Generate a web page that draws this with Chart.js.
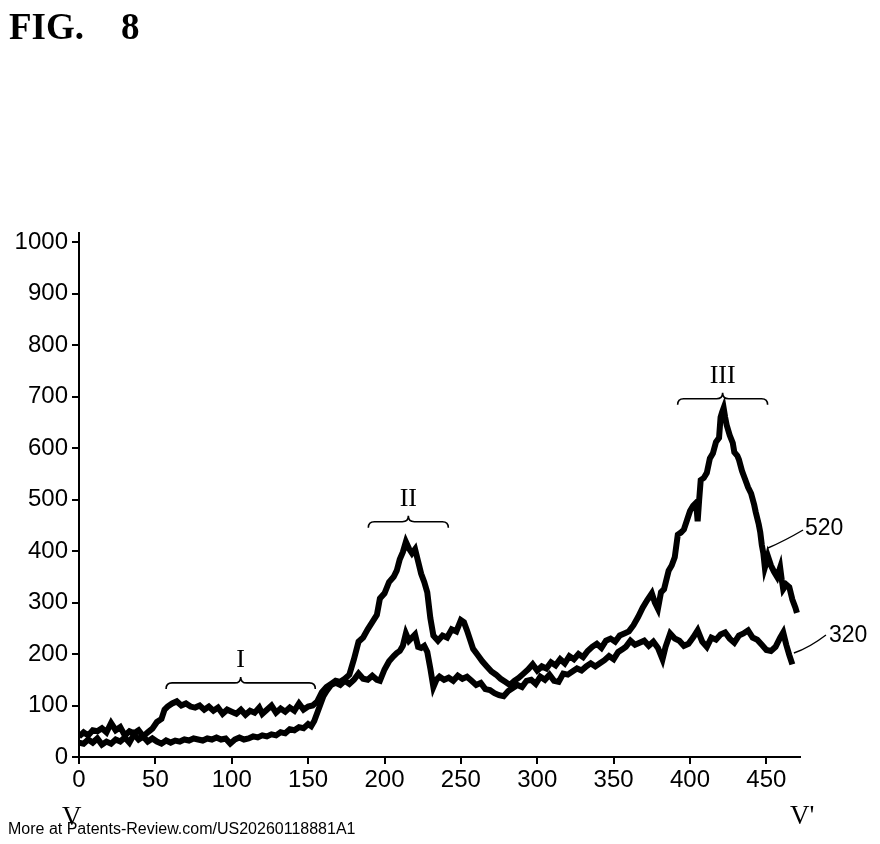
<!DOCTYPE html>
<html>
<head>
<meta charset="utf-8">
<script src="https://cdn.jsdelivr.net/npm/chart.js@4/dist/chart.umd.min.js"></script>
<style>
  html, body { margin: 0; padding: 0; background: #fff; }
  #fig { display: block; }
</style>
</head>
<body>
<canvas id="fig" width="880" height="844"></canvas>
<script>
// curve 520 (upper trace)
var s520X = [0,3,6,9,12,15,18,21,24,27,30,33,36,39,42,45,48,51,54,56,58,61,64,67,70,73,76,79,82,85,88,91,94,97,100,103,106,109,112,115,118,120,123,126,129,132,135,138,141,144,147,150,153,156,159,162,165,168,171,174,177,180,183,186,189,192,195,197,200,203,206,208,210,212,214,216,218,220,222,224,226,228,230,232,235,238,241,244,247,250,252,254,256,258,261,264,267,270,273,276,279,282,285,288,291,294,297,300,303,306,309,312,315,318,321,324,327,330,333,336,339,342,345,348,351,354,357,360,363,366,369,372,375,377,379,381,383,386,388,390,392,394,396,398,400,402,404,405,406,407,409,411,413,415,417,419,420,421,422,423,424,426,428,429,431,432,434,436,438,440,442,443,445,446,447,448,449,450,451,453,455,457,459,460,461,463,465,467,469,470];
var s520Y = [40,48,42,52,50,56,48,66,52,58,42,50,46,52,40,48,55,68,74,92,98,104,108,100,104,98,96,100,92,98,90,96,84,92,88,84,92,82,90,86,96,84,92,100,86,94,88,96,90,104,92,98,100,108,126,136,142,148,146,152,160,190,224,232,248,262,276,308,318,340,350,362,384,398,418,405,396,404,380,356,340,320,270,236,226,236,232,248,244,266,262,246,228,210,198,186,176,166,160,152,146,140,148,154,162,170,180,168,176,172,184,178,190,182,196,190,200,194,206,214,220,212,226,230,224,236,240,244,256,272,290,305,318,300,288,320,326,362,372,388,432,436,442,460,478,488,494,458,500,538,542,552,580,590,612,620,660,670,678,660,645,625,610,592,585,578,556,540,524,512,490,476,452,436,412,396,368,378,390,372,360,350,368,345,326,335,330,306,290,280];

// curve 320 (lower trace)
var s320X = [0,3,6,9,12,15,18,21,24,27,30,33,36,39,42,45,48,51,54,57,60,63,66,69,72,75,78,81,84,87,90,93,96,99,102,105,108,111,114,117,120,123,126,129,132,135,138,141,144,147,150,152,154,156,158,160,162,165,168,171,174,177,180,183,186,189,192,195,197,200,203,206,208,210,212,214,216,218,220,222,224,226,228,230,232,234,236,239,242,245,248,251,254,257,260,263,266,269,272,275,278,281,284,287,290,293,296,299,302,305,308,311,314,317,320,323,326,329,332,335,338,341,344,347,350,353,356,358,361,364,367,370,373,376,379,382,384,387,390,393,396,399,402,405,408,411,414,417,420,423,426,429,432,435,438,441,444,447,450,453,456,459,461,463,465,467];
var s320Y = [28,26,34,28,36,24,30,26,34,30,38,28,44,34,40,30,36,30,26,32,28,32,30,34,32,36,34,32,36,34,38,34,36,26,34,38,34,36,40,38,42,40,44,42,48,46,54,52,58,56,64,60,70,86,102,118,128,140,144,140,148,142,150,162,152,150,158,150,148,170,186,196,202,206,216,240,226,232,238,214,212,216,204,172,136,150,156,150,154,148,158,152,156,148,140,144,132,130,124,120,118,128,134,140,136,148,150,142,156,150,160,148,146,162,160,166,172,168,176,182,176,182,188,196,190,204,210,214,226,218,222,226,216,224,212,190,214,240,230,226,216,220,232,246,224,214,232,228,238,242,230,222,236,240,246,232,228,218,208,206,214,232,242,218,198,180];

var xTicks = [0,50,100,150,200,250,300,350,400,450];
var yTicks = [0,100,200,300,400,500,600,700,800,900,1000];

// region braces: label, from, to, height of the brace (data units)
var braceLabels = ['I', 'II', 'III'];
var braceFrom = [57, 189.4, 391.9];
var braceTo = [154.7, 241.8, 450.8];
var braceAt = [144, 457, 696];

function toPoints(xs, ys) {
    var pts = [];
    for (var i = 0; i < xs.length; i++) {
        pts.push({x: xs[i], y: ys[i]});
    }
    return pts;
}

function drawBrace(ctx, x1, x2, y) {
    var xm = (x1 + x2) / 2;
    var h = 6;
    ctx.beginPath();
    ctx.moveTo(x1, y + h);
    ctx.quadraticCurveTo(x1, y, x1 + h, y);
    ctx.lineTo(xm - h, y);
    ctx.quadraticCurveTo(xm, y, xm, y - h);
    ctx.quadraticCurveTo(xm, y, xm + h, y);
    ctx.lineTo(x2 - h, y);
    ctx.quadraticCurveTo(x2, y, x2, y + h);
    ctx.stroke();
}

var notes = {
    id: 'notes',
    afterDraw: function(chart) {
        var ctx = chart.ctx;
        var sx = chart.scales.x, sy = chart.scales.y;
        ctx.save();
        ctx.fillStyle = '#000';
        ctx.strokeStyle = '#000';

        // title
        ctx.font = 'bold 37px "Liberation Serif"';
        ctx.textBaseline = 'alphabetic';
        ctx.textAlign = 'left';
        ctx.fillText('FIG.', 9, 39);
        ctx.fillText('8', 121, 39);

        // braces I, II, III
        ctx.lineWidth = 1.6;
        ctx.font = '26px "Liberation Serif"';
        ctx.textAlign = 'center';
        ctx.textBaseline = 'bottom';
        for (var i = 0; i < braceLabels.length; i++) {
            var x1 = sx.getPixelForValue(braceFrom[i]);
            var x2 = sx.getPixelForValue(braceTo[i]);
            var y = sy.getPixelForValue(braceAt[i]);
            drawBrace(ctx, x1, x2, y);
            ctx.fillText(braceLabels[i], (x1 + x2) / 2, y - 10);
        }

        // leader lines with reference numerals
        ctx.lineWidth = 1.4;
        ctx.beginPath();
        ctx.moveTo(sx.getPixelForValue(451), sy.getPixelForValue(406));
        ctx.quadraticCurveTo(sx.getPixelForValue(462), sy.getPixelForValue(420),
                             sx.getPixelForValue(474), sy.getPixelForValue(441));
        ctx.stroke();
        ctx.beginPath();
        ctx.moveTo(sx.getPixelForValue(468), sy.getPixelForValue(202));
        ctx.quadraticCurveTo(sx.getPixelForValue(478), sy.getPixelForValue(212),
                             sx.getPixelForValue(489), sy.getPixelForValue(237));
        ctx.stroke();
        ctx.font = '23px "Liberation Sans"';
        ctx.textAlign = 'left';
        ctx.textBaseline = 'middle';
        ctx.fillText('520', 805, 529);
        ctx.fillText('320', 829, 636);

        // V and V' end marks
        ctx.font = '27px "Liberation Serif"';
        ctx.textBaseline = 'alphabetic';
        ctx.fillText('V', 62, 825);
        ctx.fillText("V'", 790, 824);

        // source note
        ctx.font = '16px "Liberation Sans"';
        ctx.fillText('More at Patents-Review.com/US20260118881A1', 8, 834);
        ctx.restore();
    }
};

var axisFont = {family: '"Liberation Sans"', size: 24};
function plainLabel(v) { return String(v); }

new Chart(document.getElementById('fig'), {
    type: 'line',
    data: {
        datasets: [{
            label: '520',
            data: toPoints(s520X, s520Y),
            borderColor: '#000',
            borderWidth: 6,
            pointRadius: 0,
            tension: 0
        }, {
            label: '320',
            data: toPoints(s320X, s320Y),
            borderColor: '#000',
            borderWidth: 6,
            pointRadius: 0,
            tension: 0
        }]
    },
    options: {
        responsive: false,
        animation: false,
        layout: {padding: {left: 0, right: 80, top: 233, bottom: 57}},
        plugins: {
            legend: {display: false},
            tooltip: {enabled: false}
        },
        scales: {
            x: {
                type: 'linear',
                min: 0,
                max: 472,
                afterBuildTicks: function(scale) {
                    scale.ticks = xTicks.map(function(v) { return {value: v}; });
                },
                afterFit: function(scale) { scale.height = 30; },
                grid: {drawOnChartArea: false, color: '#000', lineWidth: 2, tickLength: 7},
                border: {color: '#000', width: 2},
                ticks: {color: '#000', font: axisFont, padding: 2, maxRotation: 0, autoSkip: false, callback: plainLabel}
            },
            y: {
                type: 'linear',
                min: 0,
                max: 1018,
                afterBuildTicks: function(scale) {
                    scale.ticks = yTicks.map(function(v) { return {value: v}; });
                },
                afterFit: function(scale) { scale.width = 79; },
                grid: {drawOnChartArea: false, color: '#000', lineWidth: 2, tickLength: 7},
                border: {color: '#000', width: 2},
                ticks: {color: '#000', font: axisFont, padding: 4, autoSkip: false, callback: plainLabel}
            }
        }
    },
    plugins: [notes]
});
</script>
</body>
</html>
